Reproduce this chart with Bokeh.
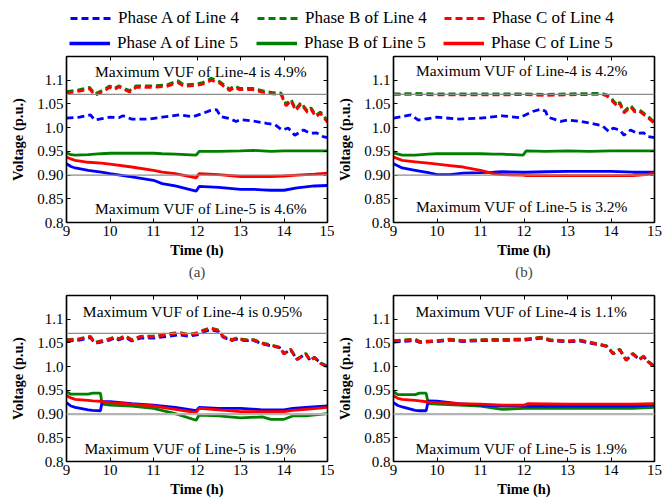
from bokeh.plotting import figure
from bokeh.models import Range1d, FixedTicker, LinearAxis, Span, Title, Legend, LegendItem, ColumnDataSource
from bokeh.layouts import column, row
from bokeh.core.properties import value
from bokeh.embed import file_html
from bokeh.resources import INLINE

FONT = "Liberation Serif"
BLUE, GREEN, RED = "#0000ff", "#008000", "#ff0000"

x_ticks = [9, 10, 11, 12, 13, 14, 15]
y_ticks = [0.8, 0.85, 0.9, 0.95, 1.0, 1.05, 1.1]
y_tick_labels = ["0.8", "0.85", "0.90", "0.95", "1.0", "1.05", "1.1"]
limits = [1.07, 0.90]

legend_labels_4 = ["Phase A of Line 4", "Phase B of Line 4", "Phase C of Line 4"]
legend_labels_5 = ["Phase A of Line 5", "Phase B of Line 5", "Phase C of Line 5"]
captions = ["(a)", "(b)", None, None]
vuf4 = ["Maximum VUF of Line-4 is 4.9%", "Maximum VUF of Line-4 is 4.2%",
        "Maximum VUF of Line-4 is 0.95%", "Maximum VUF of Line-4 is 1.1%"]
vuf5 = ["Maximum VUF of Line-5 is 4.6%", "Maximum VUF of Line-5 is 3.2%",
        "Maximum VUF of Line-5 is 1.9%", "Maximum VUF of Line-5 is 1.9%"]
vuf4_x = [12.09, 11.95, 11.9, 11.94]
vuf5_x = [12.09, 11.95, 11.85, 11.94]
vuf4_y = [1.119, 1.121, 1.116, 1.116]
vuf5_y = [0.830, 0.833, 0.828, 0.828]

# ---------------- panel (a) ----------------
a_t4 = [9, 9.3, 9.53, 9.65, 9.88, 9.99, 10.1, 10.2, 10.45, 10.6, 11.0, 11.3, 11.56, 11.7, 11.98, 12.13, 12.33,
        12.52, 12.75, 12.86, 12.98, 13.28, 13.5, 13.74, 13.93, 14.05, 14.16, 14.27, 14.39, 14.54, 14.62, 14.73, 14.84, 15]
a_B4 = [1.076, 1.080, 1.085, 1.071, 1.081, 1.088, 1.083, 1.088, 1.078, 1.088, 1.088, 1.090, 1.099, 1.090, 1.092,
        1.095, 1.104, 1.097, 1.081, 1.088, 1.083, 1.083, 1.078, 1.074, 1.073, 1.049, 1.060, 1.039, 1.053, 1.035,
        1.042, 1.026, 1.033, 1.014]
a_C4 = [1.073, 1.077, 1.082, 1.068, 1.078, 1.085, 1.080, 1.086, 1.075, 1.085, 1.085, 1.087, 1.095, 1.087, 1.089,
        1.092, 1.100, 1.094, 1.078, 1.085, 1.080, 1.080, 1.075, 1.071, 1.070, 1.046, 1.057, 1.036, 1.050, 1.032,
        1.039, 1.023, 1.030, 1.011]
a_tA4 = [9, 9.3, 9.55, 9.65, 10.0, 10.2, 10.3, 10.5, 10.9, 11.2, 11.6, 11.9, 12.1, 12.3, 12.45, 12.55, 12.75, 12.9,
         13.0, 13.3, 13.6, 13.8, 13.95, 14.1, 14.25, 14.45, 14.6, 14.75, 14.9, 15]
a_A4 = [1.020, 1.022, 1.027, 1.016, 1.022, 1.021, 1.025, 1.018, 1.018, 1.022, 1.027, 1.023, 1.029, 1.036, 1.038,
        1.023, 1.019, 1.013, 1.017, 1.014, 1.009, 1.006, 0.995, 0.999, 0.984, 0.995, 0.988, 0.989, 0.981, 0.979]
a_t5 = [9, 9.1, 9.2, 9.5, 9.8, 10, 10.5, 11, 11.2, 11.5, 11.98, 12.05, 12.5, 13, 13.3, 13.5, 13.7, 14, 14.3, 14.5, 14.7, 15]
a_B5 = [0.947, 0.943, 0.942, 0.943, 0.945, 0.946, 0.946, 0.946, 0.945, 0.944, 0.942, 0.950, 0.950, 0.951, 0.952,
        0.951, 0.950, 0.951, 0.951, 0.951, 0.951, 0.951]
a_C5 = [0.938, 0.934, 0.931, 0.927, 0.925, 0.923, 0.917, 0.910, 0.906, 0.903, 0.894, 0.903, 0.901, 0.897, 0.897,
        0.897, 0.897, 0.898, 0.900, 0.901, 0.902, 0.904]
a_A5 = [0.924, 0.918, 0.915, 0.910, 0.906, 0.903, 0.896, 0.889, 0.882, 0.877, 0.866, 0.876, 0.874, 0.870, 0.870,
        0.869, 0.868, 0.868, 0.873, 0.875, 0.877, 0.878]

# ---------------- panel (b) ----------------
b_t4 = [9, 9.5, 10, 10.5, 11, 11.5, 12, 12.5, 13, 13.5, 13.8, 13.9, 14.0, 14.05, 14.15, 14.2, 14.3, 14.45, 14.55,
        14.65, 14.8, 14.9, 15]
b_B4 = [1.071, 1.072, 1.071, 1.071, 1.071, 1.071, 1.071, 1.070, 1.071, 1.072, 1.072, 1.069, 1.064, 1.057, 1.047,
        1.054, 1.034, 1.047, 1.036, 1.038, 1.027, 1.020, 1.011]
b_C4 = [1.070, 1.070, 1.069, 1.069, 1.069, 1.069, 1.070, 1.068, 1.069, 1.070, 1.070, 1.067, 1.060, 1.054, 1.044,
        1.051, 1.031, 1.044, 1.033, 1.035, 1.024, 1.017, 1.009]
b_tA4 = [9, 9.4, 9.57, 10, 10.5, 11, 11.5, 11.9, 12.2, 12.4, 12.5, 12.55, 12.75, 12.85, 13, 13.3, 13.6, 13.8,
         13.95, 14.05, 14.2, 14.3, 14.45, 14.6, 14.75, 14.85, 15]
b_A4 = [1.020, 1.027, 1.016, 1.022, 1.018, 1.020, 1.025, 1.021, 1.034, 1.039, 1.034, 1.022, 1.016, 1.013, 1.016,
        1.013, 1.008, 1.004, 0.992, 0.999, 0.995, 0.984, 0.995, 0.988, 0.989, 0.981, 0.979]
b_t5 = [9, 9.2, 9.5, 9.8, 10, 10.3, 10.6, 11, 11.3, 11.5, 11.98, 12.05, 12.5, 13, 13.5, 14, 14.5, 14.8, 15]
b_B5 = [0.947, 0.942, 0.942, 0.944, 0.945, 0.945, 0.945, 0.945, 0.944, 0.944, 0.942, 0.951, 0.950, 0.951, 0.950,
        0.951, 0.951, 0.951, 0.951]
b_C5 = [0.938, 0.931, 0.928, 0.925, 0.923, 0.920, 0.917, 0.910, 0.903, 0.901, 0.900, 0.899, 0.899, 0.899, 0.899,
        0.899, 0.899, 0.901, 0.904]
b_A5 = [0.924, 0.915, 0.910, 0.905, 0.901, 0.901, 0.904, 0.905, 0.906, 0.907, 0.906, 0.906, 0.907, 0.908, 0.908,
        0.908, 0.906, 0.906, 0.906]

# ---------------- panel (c) ----------------
c_t4 = [9, 9.3, 9.55, 9.65, 10.0, 10.1, 10.2, 10.35, 10.5, 10.7, 11.0, 11.5, 11.6, 11.8, 12.0, 12.15, 12.3, 12.5,
        12.6, 12.8, 12.9, 13.1, 13.3, 13.5, 13.7, 13.9, 14.0, 14.15, 14.3, 14.5, 14.6, 14.7, 14.85, 15]
c_B4 = [1.057, 1.059, 1.064, 1.051, 1.059, 1.063, 1.059, 1.065, 1.057, 1.064, 1.065, 1.071, 1.072, 1.068, 1.071,
        1.077, 1.082, 1.077, 1.064, 1.057, 1.060, 1.057, 1.057, 1.050, 1.046, 1.041, 1.028, 1.037, 1.016, 1.028,
        1.014, 1.020, 1.007, 1.000]
c_C4 = [1.056, 1.058, 1.063, 1.050, 1.058, 1.062, 1.058, 1.064, 1.056, 1.063, 1.063, 1.070, 1.071, 1.067, 1.070,
        1.076, 1.081, 1.076, 1.063, 1.056, 1.059, 1.056, 1.056, 1.049, 1.045, 1.040, 1.027, 1.036, 1.015, 1.027,
        1.013, 1.019, 1.006, 0.999]
c_A4 = [1.054, 1.056, 1.061, 1.049, 1.056, 1.060, 1.056, 1.062, 1.054, 1.060, 1.060, 1.066, 1.067, 1.064, 1.067,
        1.073, 1.078, 1.074, 1.062, 1.055, 1.058, 1.055, 1.055, 1.048, 1.044, 1.040, 1.027, 1.036, 1.015, 1.027,
        1.013, 1.019, 1.007, 1.001]
c_t5 = [9, 9.1, 9.2, 9.5, 9.6, 9.78, 9.82, 10, 10.5, 11, 11.5, 11.98, 12.05, 12.5, 13, 13.5, 13.7, 14, 14.2, 14.5, 15]
c_B5 = [0.947, 0.942, 0.942, 0.942, 0.944, 0.944, 0.921, 0.919, 0.917, 0.912, 0.901, 0.887, 0.898, 0.896, 0.892,
        0.894, 0.889, 0.889, 0.896, 0.896, 0.901]
c_C5 = [0.939, 0.934, 0.931, 0.929, 0.928, 0.927, 0.926, 0.924, 0.921, 0.917, 0.910, 0.903, 0.912, 0.909, 0.905,
        0.905, 0.905, 0.905, 0.908, 0.910, 0.914]
c_A5 = [0.924, 0.917, 0.914, 0.909, 0.908, 0.907, 0.926, 0.926, 0.922, 0.919, 0.914, 0.907, 0.914, 0.912, 0.912,
        0.909, 0.909, 0.909, 0.912, 0.914, 0.917]

# ---------------- panel (d) ----------------
d_t4 = [9, 9.5, 9.6, 10, 10.3, 10.6, 11, 12, 12.4, 12.6, 13, 13.3, 13.6, 13.9, 14.05, 14.2, 14.35, 14.5, 14.65,
        14.75, 14.85, 15]
d_B4 = [1.055, 1.058, 1.053, 1.055, 1.058, 1.055, 1.057, 1.058, 1.062, 1.057, 1.054, 1.056, 1.050, 1.044, 1.028,
        1.037, 1.014, 1.028, 1.016, 1.022, 1.011, 1.000]
d_C4 = [1.054, 1.057, 1.052, 1.054, 1.057, 1.054, 1.056, 1.057, 1.061, 1.056, 1.053, 1.055, 1.049, 1.043, 1.027,
        1.036, 1.013, 1.027, 1.015, 1.021, 1.010, 0.999]
d_A4 = [1.052, 1.055, 1.051, 1.053, 1.056, 1.053, 1.055, 1.056, 1.060, 1.055, 1.052, 1.054, 1.048, 1.043, 1.027,
        1.036, 1.014, 1.027, 1.015, 1.021, 1.011, 1.001]
d_t5 = [9, 9.1, 9.2, 9.5, 9.6, 9.75, 9.8, 10, 10.5, 11, 11.5, 12, 12.1, 13, 14, 14.5, 15]
d_B5 = [0.947, 0.941, 0.941, 0.941, 0.944, 0.944, 0.922, 0.921, 0.919, 0.917, 0.910, 0.912, 0.912, 0.912, 0.912,
        0.912, 0.914]
d_C5 = [0.939, 0.933, 0.931, 0.929, 0.928, 0.926, 0.925, 0.924, 0.922, 0.921, 0.919, 0.919, 0.922, 0.921, 0.921,
        0.921, 0.922]
d_A5 = [0.924, 0.918, 0.915, 0.908, 0.907, 0.907, 0.928, 0.927, 0.922, 0.919, 0.917, 0.917, 0.917, 0.917, 0.917,
        0.917, 0.919]

panels = [
    dict(tA4=a_tA4, A4=a_A4, t4=a_t4, B4=a_B4, C4=a_C4, t5=a_t5, A5=a_A5, B5=a_B5, C5=a_C5),
    dict(tA4=b_tA4, A4=b_A4, t4=b_t4, B4=b_B4, C4=b_C4, t5=b_t5, A5=b_A5, B5=b_B5, C5=b_C5),
    dict(tA4=c_t4, A4=c_A4, t4=c_t4, B4=c_B4, C4=c_C4, t5=c_t5, A5=c_A5, B5=c_B5, C5=c_C5),
    dict(tA4=d_t4, A4=d_A4, t4=d_t4, B4=d_B4, C4=d_C4, t5=d_t5, A5=d_A5, B5=d_B5, C5=d_C5),
]

LW = 2.8
DASH = "7 4"


def style_axis(ax, labels=True):
    ax.axis_line_color = "black"
    ax.axis_line_width = 1.5
    ax.major_tick_in = 4
    ax.major_tick_out = 0
    ax.minor_tick_line_color = None
    ax.major_tick_line_color = "black"
    ax.major_label_text_font = FONT
    if labels:
        ax.major_label_text_font_size = "15px"
        ax.major_label_text_color = "black"
    else:
        ax.major_label_text_font_size = "0px"
        ax.major_label_text_color = None
        ax.major_label_standoff = 0


def make_panel(i, width, height, mb_left, mb_right, mb_bottom):
    d = panels[i]
    p = figure(width=width, height=height, x_range=Range1d(9, 15), y_range=Range1d(0.8, 1.15),
               output_backend="svg", toolbar_location=None,
               min_border_left=mb_left, min_border_right=mb_right, min_border_top=2, min_border_bottom=mb_bottom)
    p.grid.visible = False
    p.outline_line_color = "black"
    p.outline_line_width = 1.2
    p.background_fill_color = "white"
    p.border_fill_color = "white"

    xa = p.xaxis[0]
    ya = p.yaxis[0]
    xa.ticker = FixedTicker(ticks=x_ticks)
    ya.ticker = FixedTicker(ticks=y_ticks)
    ya.major_label_overrides = {t: s for t, s in zip(y_ticks, y_tick_labels)}
    style_axis(xa)
    style_axis(ya)
    xa.major_label_standoff = 3
    ya.major_label_standoff = 3
    xa.axis_label = "Time (h)"
    ya.axis_label = "Voltage (p.u.)"
    for ax in (xa, ya):
        ax.axis_label_text_font = FONT
        ax.axis_label_text_font_style = "bold"
        ax.axis_label_text_font_size = "14.5px"
        ax.axis_label_text_color = "black"
    xa.axis_label_standoff = 3
    ya.axis_label_standoff = 8

    ra = LinearAxis(ticker=FixedTicker(ticks=y_ticks))
    style_axis(ra, labels=False)
    p.add_layout(ra, "right")
    ta = LinearAxis(ticker=FixedTicker(ticks=x_ticks))
    style_axis(ta, labels=False)
    p.add_layout(ta, "above")

    for k, lv in enumerate(limits):
        col = "#8c8c8c" if (i < 2 or k == 0) else "#b4b4b4"
        lw = 1.2 if (i < 2 or k == 0) else 2.2
        p.add_layout(Span(location=lv, dimension="width", line_color=col, line_width=lw))

    p.line(d["tA4"], d["A4"], line_color=BLUE, line_width=LW, line_dash=DASH)
    p.line(d["t4"], d["B4"], line_color=GREEN, line_width=LW, line_dash=DASH)
    p.line(d["t4"], d["C4"], line_color=RED, line_width=LW, line_dash=DASH)
    p.line(d["t5"], d["B5"], line_color=GREEN, line_width=LW)
    p.line(d["t5"], d["A5"], line_color=BLUE, line_width=LW)
    p.line(d["t5"], d["C5"], line_color=RED, line_width=LW)

    src = ColumnDataSource(dict(x=[vuf4_x[i], vuf5_x[i]], y=[vuf4_y[i], vuf5_y[i]], t=[vuf4[i], vuf5[i]]))
    p.text(x="x", y="y", text="t", source=src, text_font=value(FONT), text_font_size="15.5px",
           text_align="center", text_baseline="middle", text_color="black")

    if captions[i]:
        p.add_layout(Title(text=captions[i], align="center", text_font=FONT, text_font_size="15px",
                           text_font_style="normal", standoff=2), "below")
    return p


fa = make_panel(0, 334, 239, 66, 7, 71)
fb = make_panel(1, 335, 239, 58, 15, 71)
fc = make_panel(2, 334, 206, 66, 7, 38)
fd = make_panel(3, 335, 206, 58, 15, 38)

# ---------------- legend ----------------
lg = figure(width=669, height=54, x_range=Range1d(0, 1), y_range=Range1d(0, 1),
            output_backend="svg", toolbar_location=None, x_axis_location=None, y_axis_location=None,
            min_border=0)
lg.grid.visible = False
lg.outline_line_color = None
colors = [BLUE, GREEN, RED]
nan = float("nan")
items4, items5 = [], []
for lab, c in zip(legend_labels_4, colors):
    r = lg.line(x=[nan], y=[nan], line_color=c, line_width=LW + 0.2, line_dash=DASH)
    items4.append(LegendItem(label=lab, renderers=[r]))
for lab, c in zip(legend_labels_5, colors):
    r = lg.line(x=[nan], y=[nan], line_color=c, line_width=LW + 0.6)
    items5.append(LegendItem(label=lab, renderers=[r]))

for items, loc in ((items4, (70, 26)), (items5, (69, 1))):
    leg = Legend(items=items, location=loc, orientation="horizontal", glyph_width=41, glyph_height=20,
                 label_standoff=7, label_width=131, label_height=20, spacing=8, padding=0, margin=0,
                 label_text_font=FONT, label_text_font_size="17px", label_text_color="black",
                 border_line_color=None, background_fill_alpha=0)
    lg.add_layout(leg, "center")

layout = column(lg, row(fa, fb), row(fc, fd))

open("out.html", "w").write(file_html(layout, INLINE))
